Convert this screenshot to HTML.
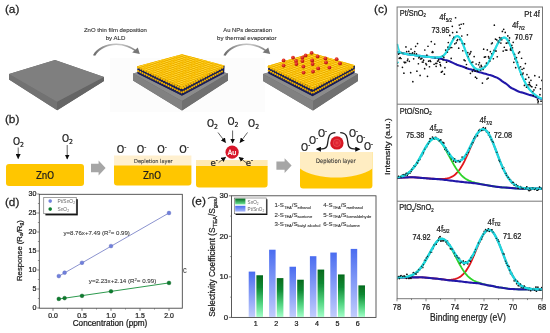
<!DOCTYPE html>
<html lang="en"><head><meta charset="utf-8"><title>Figure</title>
<style>html,body{margin:0;padding:0;background:#fff}body{width:550px;height:333px;overflow:hidden}svg{display:block}text{font-family:"Liberation Sans", sans-serif;fill:#1c1c1c;stroke:#1c1c1c;stroke-width:0.24px;paint-order:stroke}.t{font-family:"DejaVu Sans Condensed", "DejaVu Sans", "Liberation Sans", sans-serif}.w{stroke:#fff}.g{stroke:#555}</style></head><body>
<svg width="550" height="333" viewBox="0 0 550 333">
<defs>
<radialGradient id="gs" cx="40%" cy="35%" r="70%"><stop offset="0" stop-color="#ffd23a"/><stop offset="0.6" stop-color="#f6b300"/><stop offset="1" stop-color="#c98a00"/></radialGradient>
<radialGradient id="rs" cx="38%" cy="32%" r="70%"><stop offset="0" stop-color="#f4584a"/><stop offset="0.55" stop-color="#d8261e"/><stop offset="1" stop-color="#9c100c"/></radialGradient>
<radialGradient id="rs2" cx="50%" cy="50%" r="50%"><stop offset="0" stop-color="#f0454b"/><stop offset="0.35" stop-color="#de2230"/><stop offset="1" stop-color="#d4141f"/></radialGradient>
<linearGradient id="bb" x1="0" y1="0" x2="0" y2="1"><stop offset="0" stop-color="#4a6cf0"/><stop offset="1" stop-color="#c0ccfd"/></linearGradient>
<linearGradient id="gb" x1="0" y1="0" x2="0" y2="1"><stop offset="0" stop-color="#056a1d"/><stop offset="0.3" stop-color="#0f8a34"/><stop offset="0.68" stop-color="#52d480"/><stop offset="1" stop-color="#a2ffc8"/></linearGradient>
<linearGradient id="bbh" x1="0" y1="0" x2="0" y2="1"><stop offset="0" stop-color="#4a6cf0"/><stop offset="1" stop-color="#a9b9fb"/></linearGradient>
<linearGradient id="gbh" x1="0" y1="0" x2="0" y2="1"><stop offset="0" stop-color="#04691f"/><stop offset="1" stop-color="#6fe89a"/></linearGradient>
<marker id="ah" viewBox="0 0 10 10" refX="9" refY="5" markerWidth="5" markerHeight="5" markerUnits="userSpaceOnUse" orient="auto"><path d="M0,0 L10,5 L0,10 Z" fill="#111"/></marker>
<marker id="ah2" viewBox="0 0 10 10" refX="8" refY="5" markerWidth="5.6" markerHeight="5.2" markerUnits="userSpaceOnUse" orient="auto"><path d="M0,0 L10,5 L0,10 Z" fill="#111"/></marker><marker id="ahg" viewBox="0 0 10 10" refX="5" refY="5" markerWidth="8" markerHeight="8" markerUnits="userSpaceOnUse" orient="auto"><path d="M0,0.5 L10,5 L0,9.5 L2.5,5 Z" fill="#747474"/></marker>
<filter id="gsoft" filterUnits="userSpaceOnUse" x="0" y="0" width="550" height="333"><feGaussianBlur stdDeviation="0.45"/></filter>
<filter id="soft" x="-5%" y="-5%" width="110%" height="110%"><feGaussianBlur stdDeviation="0.35"/></filter>
<filter id="soft2" x="-5%" y="-5%" width="110%" height="110%"><feGaussianBlur stdDeviation="0.5"/></filter>
</defs>
<rect width="550" height="333" fill="#fff"/>
<g filter="url(#gsoft)">
<g id="panel-a">
<text x="4.9" y="13.4" font-size="11.8" style="stroke-width:0.26px" fill="#1a1a1a">(a)</text>
<text x="115.4" y="32.3" font-size="6.2" text-anchor="middle" class="g" style="fill:#333;stroke:#333;stroke-width:0.12px" textLength="63" lengthAdjust="spacingAndGlyphs">ZnO thin film deposition</text>
<text x="115.5" y="40" font-size="6.2" text-anchor="middle" class="g" style="fill:#333;stroke:#333;stroke-width:0.12px" textLength="19.6" lengthAdjust="spacingAndGlyphs">by ALD</text>
<text x="247.6" y="32.3" font-size="6.2" text-anchor="middle" class="g" style="fill:#333;stroke:#333;stroke-width:0.12px" textLength="48.6" lengthAdjust="spacingAndGlyphs">Au NPs decoration</text>
<text x="246.8" y="40" font-size="6.2" text-anchor="middle" class="g" style="fill:#333;stroke:#333;stroke-width:0.12px" textLength="59.4" lengthAdjust="spacingAndGlyphs">by thermal evaporator</text>
<linearGradient id="sw1" gradientUnits="userSpaceOnUse" x1="93.6" y1="0" x2="139.6" y2="0"><stop offset="0" stop-color="#6a6a6a"/><stop offset="0.42" stop-color="#bdbdbd"/><stop offset="0.6" stop-color="#c4c4c4"/><stop offset="1" stop-color="#727272"/></linearGradient>
<path d="M93,55.2 C96.8,47.6 106.6,43.5 116.1,43.5 C124.6,43.5 131.6,46.4 136.6,50.4 L135.4,51.6 C130.6,47.9 124.2,45.1 116.1,44.9 C108.1,44.9 99.6,48.4 95.2,55.8 Z" fill="url(#sw1)" filter="url(#soft)"/>
<polygon points="139.8,54 132.2,52.6 137.8,47.4" fill="#767676" filter="url(#soft)"/>
<linearGradient id="sw2" gradientUnits="userSpaceOnUse" x1="224" y1="0" x2="270" y2="0"><stop offset="0" stop-color="#6a6a6a"/><stop offset="0.42" stop-color="#bdbdbd"/><stop offset="0.6" stop-color="#c4c4c4"/><stop offset="1" stop-color="#727272"/></linearGradient>
<path d="M223.4,55.2 C227.2,47.6 237,43.5 246.5,43.5 C255,43.5 262,46.4 267,50.4 L265.8,51.6 C261,47.9 254.6,45.1 246.5,44.9 C238.5,44.9 230,48.4 225.6,55.8 Z" fill="url(#sw2)" filter="url(#soft)"/>
<polygon points="270.2,54 262.6,52.6 268.2,47.4" fill="#767676" filter="url(#soft)"/>
<rect x="110" y="58" width="155" height="54" fill="#fcfcfc" filter="url(#soft2)"/>
<g filter="url(#soft)">
<polygon points="9,74 55,60 104,77 104,81 57.2,110.2 9,79.5" fill="#6c6c6c"/>
<polygon points="9,74 57,101.8 57.2,110.2 9,79.5" fill="#727272"/>
<polygon points="57,101.8 104,77 104,81 57.2,110.2" fill="#656565"/>
<polygon points="9,74 55,60 104,77 57,101.8" fill="#7f7f7f"/>
</g>
<g filter="url(#soft)">
<polygon points="133,73.5 182,60.2 228,73.5 228,80.5 182,110.4 133,80.5" fill="#6a6a6a"/>
<polygon points="133,73.5 182,60.2 228,73.5 182,101" fill="#8c8c8c"/>
<polygon points="133,73.5 182,101 182,110.4 133,80.5" fill="#818181"/>
<polygon points="182,101 228,73.5 228,80.5 182,110.4" fill="#6f6f6f"/>
<polygon points="137.4,66.2 182,87 224.6,65.6 224.2,73.2 182,95.8 137.8,73.8" fill="#161b4e"/>
<path d="M138.2,72.7 L182,94.6 L223.8,72.1" fill="none" stroke="#1a2064" stroke-width="1.6" stroke-linecap="round" stroke-linejoin="round" stroke-dasharray="0.01 2.2"/>
<path d="M138.2,71 L182,92.6 L223.8,70.4" fill="none" stroke="#eeae00" stroke-width="2.2" stroke-linecap="round" stroke-linejoin="round" stroke-dasharray="0.01 2.4"/>
<path d="M138.2,69.3 L182,90.6 L223.8,68.7" fill="none" stroke="#181e5c" stroke-width="1.6" stroke-linecap="round" stroke-linejoin="round" stroke-dasharray="0.01 2.2"/>
<path d="M138.2,67.3 L182,88.3 L223.8,66.7" fill="none" stroke="#f8ba00" stroke-width="2.6" stroke-linecap="round" stroke-linejoin="round" stroke-dasharray="0.01 2.6"/>
<pattern id="pa" width="1" height="1" patternUnits="userSpaceOnUse" patternTransform="matrix(2.97 -0.8 2.97 1.39 137.4 66.2)"><rect width="1" height="1" fill="#e3a300"/><circle cx="0.5" cy="0.5" r="0.49" fill="#fbbf00"/><circle cx="0.45" cy="0.42" r="0.32" fill="#ffd634"/></pattern>
<polygon points="137.4,66.2 182,54.2 224.6,65.6 182,87" fill="#fbbf00"/>
<polygon points="137.4,66.2 182,54.2 224.6,65.6 182,87" fill="url(#pa)"/>
</g>
<g filter="url(#soft)">
<polygon points="263,74 312,59 358,74 358,81 313,110.4 263,81" fill="#6a6a6a"/>
<polygon points="263,74 312,59 358,74 313,101" fill="#8c8c8c"/>
<polygon points="263,74 313,101 313,110.4 263,81" fill="#818181"/>
<polygon points="313,101 358,74 358,81 313,110.4" fill="#6f6f6f"/>
<polygon points="268,65.8 312.6,87.4 355,65.2 354.6,72.8 312.6,96.2 268.4,73.4" fill="#161b4e"/>
<path d="M268.8,72.3 L312.6,95 L354.2,71.7" fill="none" stroke="#1a2064" stroke-width="1.6" stroke-linecap="round" stroke-linejoin="round" stroke-dasharray="0.01 2.2"/>
<path d="M268.8,70.6 L312.6,93 L354.2,70" fill="none" stroke="#eeae00" stroke-width="2.2" stroke-linecap="round" stroke-linejoin="round" stroke-dasharray="0.01 2.4"/>
<path d="M268.8,68.9 L312.6,91 L354.2,68.3" fill="none" stroke="#181e5c" stroke-width="1.6" stroke-linecap="round" stroke-linejoin="round" stroke-dasharray="0.01 2.2"/>
<path d="M268.8,66.9 L312.6,88.7 L354.2,66.3" fill="none" stroke="#f8ba00" stroke-width="2.6" stroke-linecap="round" stroke-linejoin="round" stroke-dasharray="0.01 2.6"/>
<pattern id="pb" width="1" height="1" patternUnits="userSpaceOnUse" patternTransform="matrix(2.93 -0.85 2.97 1.44 268 65.8)"><rect width="1" height="1" fill="#e3a300"/><circle cx="0.5" cy="0.5" r="0.49" fill="#fbbf00"/><circle cx="0.45" cy="0.42" r="0.32" fill="#ffd634"/></pattern>
<polygon points="268,65.8 312,53 355,65.2 312.6,87.4" fill="#fbbf00"/>
<polygon points="268,65.8 312,53 355,65.2 312.6,87.4" fill="url(#pb)"/>
<circle cx="311.6" cy="52.8" r="1.9" fill="url(#rs)"/>
<circle cx="305.6" cy="55.4" r="1.9" fill="url(#rs)"/>
<circle cx="317.6" cy="56.4" r="1.9" fill="url(#rs)"/>
<circle cx="293" cy="57.6" r="1.9" fill="url(#rs)"/>
<circle cx="302.4" cy="57.6" r="1.9" fill="url(#rs)"/>
<circle cx="325.4" cy="58.4" r="1.9" fill="url(#rs)"/>
<circle cx="336.6" cy="59.2" r="1.9" fill="url(#rs)"/>
<circle cx="283.6" cy="60.4" r="1.9" fill="url(#rs)"/>
<circle cx="312.2" cy="60.4" r="1.9" fill="url(#rs)"/>
<circle cx="296" cy="61" r="1.9" fill="url(#rs)"/>
<circle cx="302.4" cy="61" r="1.9" fill="url(#rs)"/>
<circle cx="326" cy="62.4" r="1.9" fill="url(#rs)"/>
<circle cx="340" cy="63.4" r="1.9" fill="url(#rs)"/>
<circle cx="296.4" cy="64" r="1.9" fill="url(#rs)"/>
<circle cx="312.6" cy="64" r="1.9" fill="url(#rs)"/>
<circle cx="283.6" cy="65.6" r="1.9" fill="url(#rs)"/>
<circle cx="303.4" cy="66.6" r="1.9" fill="url(#rs)"/>
<circle cx="329.4" cy="67.6" r="1.9" fill="url(#rs)"/>
<circle cx="318.2" cy="68.4" r="1.9" fill="url(#rs)"/>
<circle cx="313" cy="71.6" r="1.9" fill="url(#rs)"/>
<circle cx="303.6" cy="72.6" r="1.9" fill="url(#rs)"/>
</g>
</g>
<g id="panel-b">
<text x="4.9" y="123.4" font-size="11.8" style="stroke-width:0.26px" fill="#1a1a1a">(b)</text>
<rect x="6" y="164" width="78" height="22" rx="3" fill="#ffc604"/>
<text class="t" x="45" y="178.9" font-size="10.6" text-anchor="middle" fill="#222" textLength="18.2" lengthAdjust="spacingAndGlyphs">ZnO</text>
<text class="t" x="18.4" y="144.5" font-size="10" text-anchor="middle" fill="#222">O<tspan font-size="6.8" dy="2.2">2</tspan></text>
<text class="t" x="67.4" y="141.5" font-size="10" text-anchor="middle" fill="#222">O<tspan font-size="6.8" dy="2.2">2</tspan></text>
<line x1="18.2" y1="147.5" x2="18.2" y2="158.6" stroke="#505050" stroke-width="0.9" marker-end="url(#ah)"/>
<line x1="67.2" y1="145" x2="67.2" y2="159" stroke="#505050" stroke-width="0.9" marker-end="url(#ah)"/>
<polygon points="91,163.8 98.6,163.8 98.6,160.6 105.6,168 98.6,175.4 98.6,172.2 91,172.2" fill="#a6a6a6"/>
<path d="M114,155.4 H191.4 V166 H114 Z" fill="#fff0cf"/>
<path d="M114,165.6 H191.4 V182.6 a3,3 0 0 1 -3,3 H117 a3,3 0 0 1 -3,-3 Z" fill="#ffc604"/>
<text class="t g" x="153.4" y="163" font-size="5.4" text-anchor="middle" style="fill:#333;stroke-width:0.1px" textLength="38.6" lengthAdjust="spacingAndGlyphs">Depletion layer</text>
<text class="t" x="152" y="178.9" font-size="10.6" text-anchor="middle" fill="#222" textLength="18.2" lengthAdjust="spacingAndGlyphs">ZnO</text>
<text class="t" x="121.5" y="153.2" font-size="10.6" text-anchor="middle" fill="#222">O<tspan font-size="6.36" dy="-4">-</tspan></text>
<text class="t" x="141.5" y="153.2" font-size="10.6" text-anchor="middle" fill="#222">O<tspan font-size="6.36" dy="-4">-</tspan></text>
<text class="t" x="162" y="153.2" font-size="10.6" text-anchor="middle" fill="#222">O<tspan font-size="6.36" dy="-4">-</tspan></text>
<text class="t" x="184" y="153.2" font-size="10.6" text-anchor="middle" fill="#222">O<tspan font-size="6.36" dy="-4">-</tspan></text>
<path d="M196,160 H267.6 V167 H196 Z" fill="#ffeab4"/>
<path d="M196,166 H267.6 V184.6 a3,3 0 0 1 -3,3 H199 a3,3 0 0 1 -3,-3 Z" fill="#ffc604"/>
<circle cx="232.1" cy="152.2" r="6.6" fill="#d8182a"/>
<text class="t w" x="232.1" y="155" font-size="7.2" text-anchor="middle" style="fill:#fff">Au</text>
<text class="t" x="212.5" y="126.6" font-size="10" text-anchor="middle" fill="#222">O<tspan font-size="6.8" dy="2.2">2</tspan></text>
<text class="t" x="233" y="125.2" font-size="10" text-anchor="middle" fill="#222">O<tspan font-size="6.8" dy="2.2">2</tspan></text>
<text class="t" x="253.6" y="126.6" font-size="10" text-anchor="middle" fill="#222">O<tspan font-size="6.8" dy="2.2">2</tspan></text>
<line x1="218" y1="132.5" x2="225.6" y2="142.5" stroke="#505050" stroke-width="0.9" marker-end="url(#ah)"/>
<line x1="232.6" y1="130.5" x2="232.6" y2="143" stroke="#505050" stroke-width="0.9" marker-end="url(#ah)"/>
<line x1="247.5" y1="132.5" x2="240" y2="142.5" stroke="#505050" stroke-width="0.9" marker-end="url(#ah)"/>
<text class="t" x="214" y="166" font-size="9.5" text-anchor="middle" fill="#222">e<tspan font-size="6" dy="-4">-</tspan></text>
<text class="t" x="249.4" y="166" font-size="9.5" text-anchor="middle" fill="#222">e<tspan font-size="6" dy="-4">-</tspan></text>
<line x1="218.6" y1="162.6" x2="225.6" y2="157.2" stroke="#505050" stroke-width="0.9" marker-end="url(#ah)"/>
<line x1="246" y1="162.6" x2="239" y2="157.2" stroke="#505050" stroke-width="0.9" marker-end="url(#ah)"/>
<polygon points="276.4,161.4 284.6,161.4 284.6,158.2 291.6,165.6 284.6,173 284.6,169.8 276.4,169.8" fill="#a6a6a6"/>
<path d="M300,152 H372.4 V185.6 a3,3 0 0 1 -3,3 H303 a3,3 0 0 1 -3,-3 Z" fill="#ffc604"/>
<path d="M300,152 H372.4 V168.4 C356,180.6 316,180.6 300,168.4 Z" fill="#ffedc2"/>
<text class="t g" x="335.8" y="163.2" font-size="6.1" text-anchor="middle" style="fill:#2a2a2a;stroke-width:0.1px" textLength="39.6" lengthAdjust="spacingAndGlyphs">Depletion layer</text>
<circle cx="336.9" cy="142.9" r="6.7" fill="url(#rs2)"/>
<circle cx="336.9" cy="142.9" r="3.6" fill="none" stroke="#ec6a6e" stroke-width="0.7" opacity="0.7"/>
<text class="t" x="305.6" y="151" font-size="10" text-anchor="middle" fill="#222">O<tspan font-size="6" dy="-4">-</tspan></text>
<text class="t" x="313.6" y="144.4" font-size="10" text-anchor="middle" fill="#222">O<tspan font-size="6" dy="-4">-</tspan></text>
<text class="t" x="322.4" y="137.4" font-size="10" text-anchor="middle" fill="#222">O<tspan font-size="6" dy="-4">-</tspan></text>
<text class="t" x="353.4" y="137.4" font-size="10" text-anchor="middle" fill="#222">O<tspan font-size="6" dy="-4">-</tspan></text>
<text class="t" x="360.8" y="143.2" font-size="10" text-anchor="middle" fill="#222">O<tspan font-size="6" dy="-4">-</tspan></text>
<text class="t" x="368.4" y="150" font-size="10" text-anchor="middle" fill="#222">O<tspan font-size="6" dy="-4">-</tspan></text>
<path d="M335.4,132.6 C328.6,132.6 328.2,138 327.6,143.5 C327.2,148.4 325,149.2 316.8,149.2" fill="none" stroke="#222" stroke-width="1.3" marker-end="url(#ah2)"/>
<path d="M340.2,132.6 C347,132.6 347.4,138 348,143.5 C348.4,148.4 350.6,149.2 359.4,149.2" fill="none" stroke="#222" stroke-width="1.3" marker-end="url(#ah2)"/>
</g>
<g id="panel-d">
<rect x="39.3" y="194.3" width="143" height="113.9" fill="#fff" stroke="#3e3e3e" stroke-width="0.85"/>
<text x="4.9" y="206" font-size="11.8" style="stroke-width:0.26px" fill="#1a1a1a">(d)</text>
<line x1="37.3" y1="308" x2="39.3" y2="308" stroke="#555" stroke-width="0.8"/>
<text x="36.5" y="310.4" font-size="7.1" text-anchor="end" fill="#222">0</text>
<line x1="37.3" y1="289" x2="39.3" y2="289" stroke="#555" stroke-width="0.8"/>
<text x="36.5" y="291.4" font-size="7.1" text-anchor="end" fill="#222">5</text>
<line x1="37.3" y1="270" x2="39.3" y2="270" stroke="#555" stroke-width="0.8"/>
<text x="36.5" y="272.4" font-size="7.1" text-anchor="end" fill="#222">10</text>
<line x1="37.3" y1="251" x2="39.3" y2="251" stroke="#555" stroke-width="0.8"/>
<text x="36.5" y="253.4" font-size="7.1" text-anchor="end" fill="#222">15</text>
<line x1="37.3" y1="232" x2="39.3" y2="232" stroke="#555" stroke-width="0.8"/>
<text x="36.5" y="234.4" font-size="7.1" text-anchor="end" fill="#222">20</text>
<line x1="37.3" y1="213" x2="39.3" y2="213" stroke="#555" stroke-width="0.8"/>
<text x="36.5" y="215.4" font-size="7.1" text-anchor="end" fill="#222">25</text>
<line x1="37.3" y1="194" x2="39.3" y2="194" stroke="#555" stroke-width="0.8"/>
<text x="36.5" y="196.4" font-size="7.1" text-anchor="end" fill="#222">30</text>
<line x1="37.9" y1="298.5" x2="39.3" y2="298.5" stroke="#555" stroke-width="0.6"/>
<line x1="37.9" y1="279.5" x2="39.3" y2="279.5" stroke="#555" stroke-width="0.6"/>
<line x1="37.9" y1="260.5" x2="39.3" y2="260.5" stroke="#555" stroke-width="0.6"/>
<line x1="37.9" y1="241.5" x2="39.3" y2="241.5" stroke="#555" stroke-width="0.6"/>
<line x1="37.9" y1="222.5" x2="39.3" y2="222.5" stroke="#555" stroke-width="0.6"/>
<line x1="37.9" y1="203.5" x2="39.3" y2="203.5" stroke="#555" stroke-width="0.6"/>
<line x1="53" y1="308.2" x2="53" y2="310.8" stroke="#555" stroke-width="0.8"/>
<text x="53" y="317.8" font-size="6.9" text-anchor="middle" fill="#222">0.0</text>
<line x1="82" y1="308.2" x2="82" y2="310.8" stroke="#555" stroke-width="0.8"/>
<text x="82" y="317.8" font-size="6.9" text-anchor="middle" fill="#222">0.5</text>
<line x1="111" y1="308.2" x2="111" y2="310.8" stroke="#555" stroke-width="0.8"/>
<text x="111" y="317.8" font-size="6.9" text-anchor="middle" fill="#222">1.0</text>
<line x1="140" y1="308.2" x2="140" y2="310.8" stroke="#555" stroke-width="0.8"/>
<text x="140" y="317.8" font-size="6.9" text-anchor="middle" fill="#222">1.5</text>
<line x1="169" y1="308.2" x2="169" y2="310.8" stroke="#555" stroke-width="0.8"/>
<text x="169" y="317.8" font-size="6.9" text-anchor="middle" fill="#222">2.0</text>
<line x1="67.5" y1="308.2" x2="67.5" y2="309.6" stroke="#555" stroke-width="0.6"/>
<line x1="96.5" y1="308.2" x2="96.5" y2="309.6" stroke="#555" stroke-width="0.6"/>
<line x1="125.5" y1="308.2" x2="125.5" y2="309.6" stroke="#555" stroke-width="0.6"/>
<line x1="154.5" y1="308.2" x2="154.5" y2="309.6" stroke="#555" stroke-width="0.6"/>
<text x="110" y="326.4" font-size="8.2" text-anchor="middle" fill="#222">Concentration (ppm)</text>
<text transform="translate(21.6 250.6) rotate(-90)" font-size="7.7" text-anchor="middle" fill="#222">Response (R<tspan font-size="5" dy="1.6">a</tspan><tspan dy="-1.6">/R</tspan><tspan font-size="5" dy="1.6">g</tspan><tspan dy="-1.6">)</tspan></text>
<line x1="58.8" y1="276.21" x2="169" y2="212.96" stroke="#8b93cf" stroke-width="1"/>
<line x1="58.8" y1="299.02" x2="169" y2="282.92" stroke="#2d9a4e" stroke-width="1"/>
<circle cx="58.8" cy="276.08" r="1.9" fill="#7080dc" stroke="#5864bc" stroke-width="0.4"/>
<circle cx="64.6" cy="272.66" r="1.9" fill="#7080dc" stroke="#5864bc" stroke-width="0.4"/>
<circle cx="82" cy="262.78" r="1.9" fill="#7080dc" stroke="#5864bc" stroke-width="0.4"/>
<circle cx="111" cy="246.06" r="1.9" fill="#7080dc" stroke="#5864bc" stroke-width="0.4"/>
<circle cx="169" cy="213" r="1.9" fill="#7080dc" stroke="#5864bc" stroke-width="0.4"/>
<circle cx="58.8" cy="298.88" r="1.9" fill="#0b7d2e" stroke="#07561f" stroke-width="0.4"/>
<circle cx="64.6" cy="298.12" r="1.9" fill="#0b7d2e" stroke="#07561f" stroke-width="0.4"/>
<circle cx="82" cy="295.84" r="1.9" fill="#0b7d2e" stroke="#07561f" stroke-width="0.4"/>
<circle cx="111" cy="291.28" r="1.9" fill="#0b7d2e" stroke="#07561f" stroke-width="0.4"/>
<circle cx="169" cy="282.92" r="1.9" fill="#0b7d2e" stroke="#07561f" stroke-width="0.4"/>
<text class="g" x="63.4" y="234.9" font-size="6.1" style="fill:#333;stroke-width:0.1px">y=8.76x+7.49 (R<tspan font-size="4.1" dy="-2.2">2</tspan><tspan dy="2.2">= 0.99)</tspan></text>
<text class="g" x="88.8" y="282.8" font-size="6.2" style="fill:#333;stroke-width:0.1px">y=2.23x+2.14  (R<tspan font-size="4.1" dy="-2.2">2</tspan><tspan dy="2.2">= 0.99)</tspan></text>
<rect x="45.4" y="199.2" width="32.4" height="16.2" fill="#111"/>
<rect x="43.8" y="197.6" width="32.4" height="16.2" fill="#fff" stroke="#444" stroke-width="0.5"/>
<circle cx="50.2" cy="201.1" r="1.8" fill="#7384dd"/><circle cx="50.2" cy="209.1" r="1.8" fill="#0b7d2e"/>
<text x="57.4" y="202.8" font-size="4.9" style="fill:#666;stroke:none">Pt/SnO<tspan font-size="3.4" dy="1">2</tspan></text>
<text x="57.4" y="210.8" font-size="4.9" style="fill:#666;stroke:none">SnO<tspan font-size="3.4" dy="1">2</tspan></text>
<text class="g" x="183" y="273.2" font-size="8.8" style="fill:#444;stroke-width:0.1px" textLength="3.7" lengthAdjust="spacingAndGlyphs">c</text>
</g>
<g id="panel-e">
<rect x="231.5" y="195.8" width="144.5" height="121.6" fill="#fff" stroke="#3e3e3e" stroke-width="0.85"/>
<text x="191.4" y="205.2" font-size="11.8" style="stroke-width:0.26px" fill="#1a1a1a">(e)</text>
<line x1="228.9" y1="317.4" x2="231.5" y2="317.4" stroke="#555" stroke-width="0.8"/>
<text x="228.1" y="319.8" font-size="7.8" text-anchor="end" fill="#222">0</text>
<line x1="228.9" y1="276.87" x2="231.5" y2="276.87" stroke="#555" stroke-width="0.8"/>
<text x="228.1" y="279.27" font-size="7.8" text-anchor="end" fill="#222">10</text>
<line x1="228.9" y1="236.34" x2="231.5" y2="236.34" stroke="#555" stroke-width="0.8"/>
<text x="228.1" y="238.74" font-size="7.8" text-anchor="end" fill="#222">20</text>
<line x1="228.9" y1="195.81" x2="231.5" y2="195.81" stroke="#555" stroke-width="0.8"/>
<text x="228.1" y="198.21" font-size="7.8" text-anchor="end" fill="#222">30</text>
<line x1="230.1" y1="297.13" x2="231.5" y2="297.13" stroke="#555" stroke-width="0.6"/>
<line x1="230.1" y1="256.6" x2="231.5" y2="256.6" stroke="#555" stroke-width="0.6"/>
<line x1="230.1" y1="216.07" x2="231.5" y2="216.07" stroke="#555" stroke-width="0.6"/>
<rect x="248.7" y="271.6" width="6.5" height="45.3" fill="url(#bb)"/>
<rect x="256.4" y="275.25" width="6.6" height="41.65" fill="url(#gb)"/>
<text x="255.8" y="325.8" font-size="7.1" text-anchor="middle" fill="#222">1</text>
<rect x="269.1" y="249.71" width="6.5" height="67.19" fill="url(#bb)"/>
<rect x="276.8" y="278.09" width="6.6" height="38.81" fill="url(#gb)"/>
<text x="276.2" y="325.8" font-size="7.1" text-anchor="middle" fill="#222">2</text>
<rect x="289.5" y="266.74" width="6.5" height="50.16" fill="url(#bb)"/>
<rect x="297.2" y="279.71" width="6.6" height="37.19" fill="url(#gb)"/>
<text x="296.6" y="325.8" font-size="7.1" text-anchor="middle" fill="#222">3</text>
<rect x="309.9" y="256.2" width="6.5" height="60.7" fill="url(#bb)"/>
<rect x="317.6" y="269.57" width="6.6" height="47.33" fill="url(#gb)"/>
<text x="317" y="325.8" font-size="7.1" text-anchor="middle" fill="#222">4</text>
<rect x="330.3" y="252.55" width="6.5" height="64.35" fill="url(#bb)"/>
<rect x="338" y="274.44" width="6.6" height="42.46" fill="url(#gb)"/>
<text x="337.4" y="325.8" font-size="7.1" text-anchor="middle" fill="#222">5</text>
<rect x="350.7" y="248.9" width="6.5" height="68" fill="url(#bb)"/>
<rect x="358.4" y="285.38" width="6.6" height="31.52" fill="url(#gb)"/>
<text x="357.8" y="325.8" font-size="7.1" text-anchor="middle" fill="#222">6</text>
<text transform="translate(214.8 256.4) rotate(-90)" font-size="8.3" text-anchor="middle" fill="#222">Selectivity Coefficient (S<tspan font-size="5.8" dy="1.8">TEA</tspan><tspan dy="-1.8">/S</tspan><tspan font-size="5.8" dy="1.8">gas</tspan><tspan dy="-1.8">)</tspan></text>
<rect x="235.6" y="199.2" width="31.8" height="15.8" fill="#111"/>
<rect x="234.4" y="198" width="31.8" height="15.8" fill="#fff" stroke="#444" stroke-width="0.5"/>
<rect x="235.2" y="198.6" width="10.2" height="5.8" fill="url(#gbh)"/>
<rect x="235.2" y="205.8" width="10.2" height="5.8" fill="url(#bbh)"/>
<text x="247.6" y="203.6" font-size="4.6" style="fill:#666;stroke:none">SnO<tspan font-size="3.2" dy="1">2</tspan></text>
<text x="247.6" y="210.8" font-size="4.6" style="fill:#666;stroke:none">Pt/SnO<tspan font-size="3.2" dy="1">2</tspan></text>
<text class="g" x="274.4" y="207.4" font-size="6.1" style="fill:#333;stroke-width:0.12px">1-S<tspan font-size="4.1" dy="1.5">TEA</tspan><tspan dy="-1.5">/S</tspan><tspan font-size="4.1" dy="1.5">ethanol</tspan></text>
<text class="g" x="274.4" y="216.5" font-size="6.1" style="fill:#333;stroke-width:0.12px">2-S<tspan font-size="4.1" dy="1.5">TEA</tspan><tspan dy="-1.5">/S</tspan><tspan font-size="4.1" dy="1.5">acetone</tspan></text>
<text class="g" x="274.4" y="225.6" font-size="6.1" style="fill:#333;stroke-width:0.12px">3-S<tspan font-size="4.1" dy="1.5">TEA</tspan><tspan dy="-1.5">/S</tspan><tspan font-size="4.1" dy="1.5">butyl alcohol</tspan></text>
<text class="g" x="323.2" y="207.4" font-size="6.1" style="fill:#333;stroke-width:0.12px">4-S<tspan font-size="4.1" dy="1.5">TEA</tspan><tspan dy="-1.5">/S</tspan><tspan font-size="4.1" dy="1.5">methanol</tspan></text>
<text class="g" x="323.2" y="216.5" font-size="6.1" style="fill:#333;stroke-width:0.12px">5-S<tspan font-size="4.1" dy="1.5">TEA</tspan><tspan dy="-1.5">/S</tspan><tspan font-size="4.1" dy="1.5">formaldehyde</tspan></text>
<text class="g" x="323.2" y="225.6" font-size="6.1" style="fill:#333;stroke-width:0.12px">6-S<tspan font-size="4.1" dy="1.5">TEA</tspan><tspan dy="-1.5">/S</tspan><tspan font-size="4.1" dy="1.5">toluene</tspan></text>
</g>
<g id="panel-c">
<text x="374" y="13" font-size="11.8" style="stroke-width:0.26px" fill="#1a1a1a">(c)</text>
<rect x="397.1" y="7" width="145.4" height="291.7" fill="#fff"/>
<clipPath id="c1"><rect x="397.1" y="7" width="145.4" height="97.2"/></clipPath>
<g clip-path="url(#c1)">
<path d="M397,52.2 L398.5,52.41 L400,52.67 L401.5,52.97 L403,53.29 L404.5,53.62 L406,53.93 L407.5,54.22 L409,54.47 L410.5,54.65 L412,54.81 L413.5,55 L415,55.21 L416.5,55.44 L418,55.68 L419.5,55.91 L421,56.13 L422.5,56.33 L424,56.5 L425.5,56.63 L427,56.76 L428.5,56.91 L430,57.08 L431.5,57.26 L433,57.43 L434.5,57.59 L436,57.73 L437.5,57.89 L439,58.23 L440.5,58.65 L442,59.1 L443.5,59.55 L445,59.97 L446.5,60.31 L448,60.71 L449.5,61.27 L451,61.94 L452.5,62.66 L454,63.39 L455.5,64.09 L457,64.73 L458.5,65.26 L460,65.66 L461.5,66.14 L463,66.7 L464.5,67.3 L466,67.9 L467.5,68.46 L469,68.94 L470.5,69.31 L472,69.73 L473.5,70.24 L475,70.8 L476.5,71.36 L478,71.87 L479.5,72.29 L481,72.59 L482.5,72.96 L484,73.4 L485.5,73.85 L487,74.3 L488.5,74.69 L490,75 L491.5,75.47 L493,76.08 L494.5,76.73 L496,77.31 L497.5,77.84 L499,78.77 L500.5,79.9 L502,81.09 L503.5,82.17 L505,83 L506.5,83.98 L508,85.25 L509.5,86.6 L511,87.79 L512.5,88.56 L514,89.18 L515.5,89.94 L517,90.72 L518.5,91.44 L520,92 L521.5,92.36 L523,92.81 L524.5,93.32 L526,93.85 L527.5,94.35 L529,94.78 L530.5,95.12 L532,95.54 L533.5,96.05 L535,96.61 L536.5,97.2 L538,97.77 L539.5,98.3 L541,98.76 L542,99" fill="none" stroke="#2019a8" stroke-width="2.1"/>
<path d="M397,52.2 L398.5,52.41 L400,52.67 L401.5,52.97 L403,53.29 L404.5,53.62 L406,53.93 L407.5,54.22 L409,54.47 L410.5,54.65 L412,54.81 L413.5,55 L415,55.21 L416.5,55.44 L418,55.68 L419.5,55.91 L421,56.13 L422.5,56.33 L424,56.5 L425.5,56.63 L427,56.76 L428.5,56.91 L430,57.07 L431.5,57.22 L433,57.35 L434.5,57.44 L436,57.43 L437.5,57.35 L439,57.28 L440.5,57.04 L442,56.51 L443.5,55.55 L445,54.04 L446.5,51.9 L448,49.3 L449.5,46.45 L451,43.5 L452.5,40.69 L454,38.33 L455.5,36.72 L457,36.1 L458.5,36.58 L460,38.1 L461.5,40.71 L463,44.18 L464.5,48.16 L466,52.27 L467.5,56.19 L469,59.67 L470.5,62.52 L472,64.86 L473.5,66.75 L475,68.16 L476.5,69.13 L478,69.64 L479.5,69.71 L481,69.31 L482.5,68.63 L484,67.65 L485.5,66.31 L487,64.55 L488.5,62.33 L490,59.63 L491.5,56.73 L493,53.68 L494.5,50.49 L496,47.18 L497.5,43.94 L499,41.37 L500.5,39.47 L502,38.23 L503.5,37.65 L505,37.67 L506.5,38.71 L508,40.81 L509.5,43.69 L511,47.06 L512.5,50.52 L514,54.25 L515.5,58.39 L517,62.71 L518.5,66.98 L520,70.99 L521.5,74.61 L523,78.07 L524.5,81.28 L526,84.18 L527.5,86.71 L529,88.84 L530.5,90.58 L532,92.13 L533.5,93.53 L535,94.78 L536.5,95.89 L538,96.85 L539.5,97.67 L541,98.32 L542,98.67" fill="none" stroke="#1fd6df" stroke-width="2.1" stroke-linejoin="round"/>
<path d="M397.21,63.02h0M397.69,65.91h0M398.6,54.07h0M399.21,58.33h0M399.56,53.23h0M400.22,57.63h0M401.05,58.51h0M401.56,52.71h0M402.44,67.33h0M402.93,53.28h0M403.91,73.18h0M404.12,61.98h0M404.67,62.64h0M405.7,62.39h0M405.95,46.95h0M406.7,51.72h0M407.43,60.56h0M407.86,59.03h0M408.77,51.4h0M409.34,61.36h0M409.9,53.54h0M410.67,72.65h0M411.03,49.04h0M412.04,53.74h0M412.58,52.86h0M412.85,81.64h0M413.66,58.84h0M414.33,53.84h0M414.69,51.66h0M415.64,46.32h0M416.45,53.93h0M416.92,71.18h0M417.54,43.55h0M418.39,63.76h0M418.73,57.85h0M419.5,56.93h0M420.1,75.38h0M420.51,58.98h0M421.2,58.87h0M421.88,58.27h0M422.33,62.11h0M423.32,62.02h0M423.57,60.18h0M424.65,68.63h0M424.8,49.99h0M425.91,63.63h0M426.51,64.82h0M426.89,55.17h0M427.49,76.37h0M428,46.23h0M428.64,61.22h0M429.46,66.76h0M430.15,60.62h0M430.68,61.51h0M431.28,41.57h0M432.1,52.37h0M432.63,51.49h0M432.98,52.36h0M434.12,64.26h0M434.69,44.03h0M435.08,57.85h0M435.85,63.39h0M436.14,66.33h0M436.83,63.36h0M437.57,61.12h0M438.08,60.99h0M438.68,59.64h0M439.78,62.25h0M440.25,64.56h0M440.72,65.79h0M441.36,72.22h0M442.37,71.44h0M442.69,56.14h0M443.1,59.82h0M443.87,57.35h0M444.39,74.22h0M444.94,67.64h0M445.65,50.04h0M446.52,62.15h0M447.41,52.12h0M447.97,47.17h0M448.3,42.51h0M448.81,49.23h0M449.81,35.46h0M450.17,47.75h0M451.19,58.43h0M451.74,47.49h0M452.31,26.3h0M452.63,32.55h0M453.14,38.73h0M453.77,37.44h0M454.8,43.84h0M455.59,17.76h0M456.24,42.79h0M456.85,32.16h0M457.04,40.61h0M457.65,39.54h0M458.71,48.14h0M459.3,24.99h0M459.91,39.56h0M460.11,28.32h0M461.16,24.25h0M461.77,36h0M462.42,43.5h0M462.78,50.76h0M463.45,23.79h0M464.08,59.92h0M464.57,43.88h0M465.18,60.75h0M466.22,67.85h0M466.45,64.5h0M467.39,34.79h0M467.83,52.72h0M468.26,56.67h0M469.47,54.5h0M470.08,53.38h0M470.41,73.37h0M470.9,51.72h0M471.56,62.54h0M472.39,71.47h0M472.82,62.02h0M473.84,69.31h0M474.14,56.55h0M475.1,71.17h0M475.44,77.21h0M476.14,63.98h0M476.76,78.34h0M477.19,70.49h0M477.71,71.17h0M478.63,64.75h0M479.41,62.64h0M479.91,67.02h0M480.57,70.32h0M481.2,65.3h0M481.64,66.59h0M482.43,83.08h0M483.09,69.46h0M483.65,49.18h0M484.38,57.16h0M485.06,66.38h0M485.55,56.78h0M486.47,63.2h0M486.96,79.09h0M487.32,49.9h0M488.13,78.16h0M488.51,56.63h0M489.13,58.17h0M489.83,61.12h0M490.36,51.72h0M491.49,43.73h0M491.67,53.74h0M492.3,42.92h0M493.37,58.77h0M494.04,50.27h0M494.34,25.16h0M495.23,50.95h0M495.46,39.08h0M496.2,51.01h0M496.74,39.84h0M497.27,56.76h0M498.22,41.12h0M498.71,42.4h0M499.52,37.55h0M500.37,39.37h0M500.88,43.03h0M501.2,38.1h0M501.69,39.65h0M502.38,31.39h0M503.18,51.06h0M503.71,29.32h0M504.28,47.25h0M505.24,32.38h0M505.5,50.02h0M506.34,43.13h0M506.75,50.17h0M507.82,35.96h0M508.02,42.8h0M509.12,40.42h0M509.5,37.97h0M510.42,49.85h0M510.65,48.41h0M511.27,50.23h0M511.82,45.43h0M512.51,47.86h0M513.2,42.34h0M513.82,62.28h0M514.58,54.24h0M514.92,58.81h0M515.69,67.68h0M516.5,57.59h0M516.91,37.85h0M517.49,62.26h0M518.55,53.07h0M519.19,67.98h0M519.56,51.88h0M520.54,66.76h0M520.79,74.48h0M521.59,58.26h0M522.08,69.35h0M522.55,74.38h0M523.14,73.02h0M523.83,68.37h0M524.41,85.43h0M525.4,63.62h0M525.79,79.15h0M526.53,87.19h0M526.98,74.61h0M528.09,84.82h0M528.73,77.4h0M529.36,82.43h0M529.59,84.32h0M530.27,85.63h0M530.95,80.37h0M531.6,86.63h0M531.93,86.73h0M532.8,91.57h0M533.21,95.44h0M533.96,89.95h0M534.8,75.7h0M535.47,87.56h0M536.14,96.76h0M536.54,85.1h0M537.56,99.64h0M537.99,102.85h0M538.26,101.16h0M539.24,77.12h0M539.93,94.65h0M540.44,88.79h0M541.06,101.16h0M541.88,80.41h0" fill="none" stroke="#111" stroke-width="1.7" stroke-linecap="round"/>
<path d="M397,52.2 L398.5,52.41 L400,52.67 L401.5,52.97 L403,53.29 L404.5,53.62 L406,53.93 L407.5,54.22 L409,54.47 L410.5,54.65 L412,54.81 L413.5,55 L415,55.21 L416.5,55.44 L418,55.68 L419.5,55.91 L421,56.13 L422.5,56.33 L424,56.5 L425.5,56.63 L427,56.76 L428.5,56.91 L430,57.07 L431.5,57.22 L433,57.35 L434.5,57.44 L436,57.43 L437.5,57.35 L439,57.28 L440.5,57.04 L442,56.51 L443.5,55.55 L445,54.04 L446.5,51.9 L448,49.3 L449.5,46.45 L451,43.5 L452.5,40.69 L454,38.33 L455.5,36.72 L457,36.1 L458.5,36.58 L460,38.1 L461.5,40.71 L463,44.18 L464.5,48.16 L466,52.27 L467.5,56.19 L469,59.67 L470.5,62.52 L472,64.86 L473.5,66.75 L475,68.16 L476.5,69.13 L478,69.64 L479.5,69.71 L481,69.31 L482.5,68.63 L484,67.65 L485.5,66.31 L487,64.55 L488.5,62.33 L490,59.63 L491.5,56.73 L493,53.68 L494.5,50.49 L496,47.18 L497.5,43.94 L499,41.37 L500.5,39.47 L502,38.23 L503.5,37.65 L505,37.67 L506.5,38.71 L508,40.81 L509.5,43.69 L511,47.06 L512.5,50.52 L514,54.25 L515.5,58.39 L517,62.71 L518.5,66.98 L520,70.99 L521.5,74.61 L523,78.07 L524.5,81.28 L526,84.18 L527.5,86.71 L529,88.84 L530.5,90.58 L532,92.13 L533.5,93.53 L535,94.78 L536.5,95.89 L538,96.85 L539.5,97.67 L541,98.32 L542,98.67" fill="none" stroke="#2fdfe6" stroke-width="1.9" stroke-linejoin="round" opacity="0.6"/>
</g>
<path d="M397.6,44.6 C398.2,48 398.8,50.6 400.4,52.6" fill="none" stroke="#2fdfe6" stroke-width="1.6" stroke-linecap="round"/>
<circle cx="398" cy="62.4" r="0.9" fill="#2fdfe6"/>
<clipPath id="c2"><rect x="397.1" y="104.2" width="145.4" height="97"/></clipPath>
<g clip-path="url(#c2)">
<path d="M397,177.8 L398.5,177.76 L400,177.7 L401.5,177.64 L403,177.57 L404.5,177.5 L406,177.43 L407.5,177.36 L409,177.3 L410.5,177.24 L412,177.2 L413.5,177.28 L415,177.37 L416.5,177.48 L418,177.59 L419.5,177.71 L421,177.84 L422.5,177.96 L424,178.09 L425.5,178.22 L427,178.35 L428.5,178.47 L430,178.58 L431.5,178.68 L433,178.76 L434.5,178.82 L436,178.85 L437.5,178.9 L439,178.93 L440.5,178.95 L442,178.93 L443.5,178.87 L445,178.74 L446.5,178.53 L448,178.22 L449.5,177.78 L451,177.19 L452.5,176.41 L454,175.43 L455.5,174.21 L457,172.73 L458.5,170.98 L460,168.94 L461.5,166.61 L463,163.98 L464.5,161.09 L466,157.96 L467.5,154.63 L469,151.17 L470.5,147.7 L472,144.28 L473.5,141.01 L475,137.97 L476.5,135.27 L478,132.98 L479.5,131.18 L481,129.95 L482.5,129.33 L484,129.35 L485.5,130.06 L487,131.46 L488.5,133.51 L490,136.15 L491.5,139.27 L493,142.79 L494.5,146.58 L496,150.54 L497.5,154.56 L499,158.53 L500.5,162.36 L502,165.99 L503.5,169.28 L505,172.31 L506.5,175.03 L508,177.45 L509.5,179.56 L511,181.37 L512.5,182.91 L514,184.19 L515.5,185.24 L517,186.1 L518.5,186.78 L520,187.31 L521.5,187.66 L523,187.93 L524.5,188.12 L526,188.27 L527.5,188.37 L529,188.44 L530.5,188.49 L532,188.53 L533.5,188.55 L535,188.57 L536.5,188.58 L538,188.59 L539.5,188.59 L541,188.6 L542,188.6" fill="none" stroke="#e2161c" stroke-width="1.8"/>
<path d="M397,177.37 L398.5,177.14 L400,176.84 L401.5,176.45 L403,175.96 L404.5,175.33 L406,174.56 L407.5,173.61 L409,172.47 L410.5,171.11 L412,169.53 L413.5,167.81 L415,165.85 L416.5,163.66 L418,161.25 L419.5,158.66 L421,155.94 L422.5,153.15 L424,150.37 L425.5,147.68 L427,145.17 L428.5,142.95 L430,141.08 L431.5,139.66 L433,138.73 L434.5,138.35 L436,138.5 L437.5,139.17 L439,140.29 L440.5,141.84 L442,143.77 L443.5,146.02 L445,148.53 L446.5,151.21 L448,154.01 L449.5,156.85 L451,159.68 L452.5,162.42 L454,165.04 L455.5,167.5 L457,169.77 L458.5,171.83 L460,173.68 L461.5,175.31 L463,176.73 L464.5,177.95 L466,178.98 L467.5,179.85 L469,180.56 L470.5,181.2 L472,181.75 L473.5,182.23 L475,182.67 L476.5,183.06 L478,183.42 L479.5,183.75 L481,184.07 L482.5,184.37 L484,184.66 L485.5,184.94 L487,185.22 L488.5,185.49 L490,185.74 L491.5,185.99 L493,186.24 L494.5,186.47 L496,186.68 L497.5,186.89 L499,187.08 L500.5,187.25 L502,187.4 L503.5,187.47 L505,187.56 L506.5,187.66 L508,187.77 L509.5,187.88 L511,188 L512.5,188.12 L514,188.23 L515.5,188.34 L517,188.44 L518.5,188.53 L520,188.6 L521.5,188.6 L523,188.6 L524.5,188.6 L526,188.6 L527.5,188.6 L529,188.6 L530.5,188.6 L532,188.6 L533.5,188.6 L535,188.6 L536.5,188.6 L538,188.6 L539.5,188.6 L541,188.6 L542,188.6" fill="none" stroke="#2fd42c" stroke-width="1.8"/>
<path d="M397,177.8 L398.5,177.76 L400,177.7 L401.5,177.64 L403,177.57 L404.5,177.5 L406,177.43 L407.5,177.36 L409,177.3 L410.5,177.24 L412,177.2 L413.5,177.28 L415,177.37 L416.5,177.48 L418,177.59 L419.5,177.71 L421,177.84 L422.5,177.97 L424,178.1 L425.5,178.23 L427,178.36 L428.5,178.49 L430,178.61 L431.5,178.72 L433,178.83 L434.5,178.92 L436,179 L437.5,179.11 L439,179.24 L440.5,179.38 L442,179.54 L443.5,179.7 L445,179.87 L446.5,180.05 L448,180.23 L449.5,180.42 L451,180.61 L452.5,180.8 L454,180.99 L455.5,181.18 L457,181.37 L458.5,181.55 L460,181.73 L461.5,181.9 L463,182.06 L464.5,182.22 L466,182.36 L467.5,182.49 L469,182.6 L470.5,182.75 L472,182.92 L473.5,183.11 L475,183.31 L476.5,183.53 L478,183.76 L479.5,183.99 L481,184.24 L482.5,184.49 L484,184.74 L485.5,185 L487,185.26 L488.5,185.51 L490,185.76 L491.5,186.01 L493,186.24 L494.5,186.47 L496,186.69 L497.5,186.89 L499,187.08 L500.5,187.25 L502,187.4 L503.5,187.47 L505,187.56 L506.5,187.66 L508,187.77 L509.5,187.88 L511,188 L512.5,188.12 L514,188.23 L515.5,188.34 L517,188.44 L518.5,188.53 L520,188.6 L521.5,188.6 L523,188.6 L524.5,188.6 L526,188.6 L527.5,188.6 L529,188.6 L530.5,188.6 L532,188.6 L533.5,188.6 L535,188.6 L536.5,188.6 L538,188.6 L539.5,188.6 L541,188.6 L542,188.6" fill="none" stroke="#2019a8" stroke-width="2.1"/>
<path d="M397.53,178.36h0M398.57,176.28h0M399.25,177.47h0M400.3,176.87h0M401.11,177.15h0M402.39,175.18h0M403.36,175.38h0M403.95,174.63h0M405.4,174.88h0M406.2,173.38h0M407.25,175.13h0M407.97,173.87h0M408.83,172.47h0M409.87,173.16h0M411.16,171.48h0M411.91,169.47h0M412.94,167.86h0M413.99,165.8h0M414.97,166.35h0M415.7,165.09h0M416.96,162.55h0M417.49,163.19h0M418.49,160.27h0M419.83,159.4h0M420.79,156.05h0M421.63,155.82h0M422.6,154.37h0M423.4,152.75h0M424.84,149h0M425.49,147.62h0M426.68,146.65h0M427.31,144.48h0M428.24,143.87h0M429.43,141.51h0M430.14,138.71h0M431.1,139.62h0M432.48,137.06h0M433.37,138.41h0M434.06,139.15h0M434.9,137.61h0M435.85,137.34h0M437,138.75h0M437.87,138.73h0M439.25,140.85h0M439.72,140.63h0M440.76,139.96h0M442.21,142.99h0M442.79,142.32h0M443.81,143.05h0M444.9,149.31h0M445.73,147.87h0M446.51,150.03h0M447.51,151.63h0M448.98,152.83h0M449.53,154.16h0M450.46,156.62h0M451.54,158.73h0M452.77,157.81h0M453.63,160.98h0M454.55,158.8h0M455.62,161.98h0M456.42,161.4h0M457.57,160.78h0M458.11,160.69h0M459.61,161.74h0M460.22,161.52h0M461.16,160.08h0M462.11,157.06h0M463.31,157.94h0M464.12,158.41h0M464.95,156.51h0M466.36,154.51h0M467.08,153.11h0M468.35,152.33h0M468.99,149.53h0M469.74,148.13h0M470.86,145.99h0M471.77,143.93h0M472.93,142.4h0M473.8,138.59h0M474.76,136.89h0M475.69,136h0M476.49,134.41h0M477.49,135.64h0M478.69,130.57h0M479.48,129.66h0M480.48,130.13h0M481.55,130.41h0M482.82,130.23h0M483.23,127.67h0M484.2,128.85h0M485.43,128.1h0M486.47,131.74h0M487.64,132.23h0M488.55,135.04h0M489.17,132.69h0M490.05,136.84h0M491.36,139.85h0M492.48,141.3h0M493.34,142.35h0M494.12,145.37h0M495.29,148.56h0M495.92,151.47h0M496.93,152.41h0M497.79,155.33h0M499.1,160.08h0M499.72,161.38h0M500.97,163.98h0M501.82,165.76h0M502.56,168.44h0M503.7,167.49h0M504.87,172.61h0M505.98,173.47h0M506.56,175.25h0M507.96,177.17h0M508.36,177.25h0M509.62,179.28h0M510.44,179.89h0M511.65,182.64h0M512.24,182.36h0M513.39,182.49h0M514.27,185.04h0M515.59,185.23h0M516.21,184.6h0M517.63,185.77h0M518.16,188.18h0M519.12,187.06h0M520.52,186.69h0M521.21,187.85h0M522.13,188.37h0M523.25,188.44h0M524.05,187.91h0M524.91,188.66h0M525.78,188.17h0M526.75,186.81h0M528.21,189.6h0M529.09,190.53h0M529.81,188.44h0M530.69,189.87h0M531.57,187.94h0M532.92,187.92h0M533.68,189.16h0M534.55,189.29h0M535.63,188.59h0M536.96,190.24h0M537.47,190.22h0M538.53,189.32h0M539.54,187.09h0M540.28,187.74h0M541.77,188.74h0" fill="none" stroke="#111" stroke-width="1.7" stroke-linecap="round"/>
<path d="M397,177.37 L398.5,177.14 L400,176.84 L401.5,176.45 L403,175.96 L404.5,175.33 L406,174.56 L407.5,173.61 L409,172.47 L410.5,171.11 L412,169.53 L413.5,167.81 L415,165.85 L416.5,163.66 L418,161.25 L419.5,158.66 L421,155.94 L422.5,153.14 L424,150.36 L425.5,147.67 L427,145.16 L428.5,142.93 L430,141.05 L431.5,139.61 L433,138.67 L434.5,138.25 L436,138.36 L437.5,138.95 L439,139.98 L440.5,141.41 L442,143.17 L443.5,145.19 L445,147.4 L446.5,149.7 L448,152 L449.5,154.22 L451,156.25 L452.5,158.03 L454,159.48 L455.5,160.53 L457,161.13 L458.5,161.26 L460,160.89 L461.5,160.01 L463,158.64 L464.5,156.82 L466,154.58 L467.5,151.99 L469,149.13 L470.5,146.14 L472,143.11 L473.5,140.13 L475,137.33 L476.5,134.8 L478,132.64 L479.5,130.94 L481,129.78 L482.5,129.21 L484,129.27 L485.5,130 L487,131.42 L488.5,133.49 L490,136.13 L491.5,139.26 L493,142.78 L494.5,146.58 L496,150.54 L497.5,154.56 L499,158.53 L500.5,162.36 L502,165.99 L503.5,169.28 L505,172.31 L506.5,175.03 L508,177.45 L509.5,179.56 L511,181.37 L512.5,182.91 L514,184.19 L515.5,185.24 L517,186.1 L518.5,186.78 L520,187.31 L521.5,187.66 L523,187.93 L524.5,188.12 L526,188.27 L527.5,188.37 L529,188.44 L530.5,188.49 L532,188.53 L533.5,188.55 L535,188.57 L536.5,188.58 L538,188.59 L539.5,188.59 L541,188.6 L542,188.6" fill="none" stroke="#1fd6df" stroke-width="2.4" stroke-linejoin="round"/>
<path d="M397.53,178.36h0M398.57,176.28h0M400.3,176.87h0M401.11,177.15h0M403.95,174.63h0M405.4,174.88h0M406.2,173.38h0M407.97,173.87h0M411.16,171.48h0M411.91,169.47h0M414.97,166.35h0M416.96,162.55h0M417.49,163.19h0M418.49,160.27h0M423.4,152.75h0M424.84,149h0M428.24,143.87h0M429.43,141.51h0M430.14,138.71h0M433.37,138.41h0M439.25,140.85h0M439.72,140.63h0M440.76,139.96h0M442.79,142.32h0M443.81,143.05h0M445.73,147.87h0M446.51,150.03h0M447.51,151.63h0M449.53,154.16h0M453.63,160.98h0M454.55,158.8h0M455.62,161.98h0M458.11,160.69h0M459.61,161.74h0M460.22,161.52h0M466.36,154.51h0M468.35,152.33h0M469.74,148.13h0M471.77,143.93h0M472.93,142.4h0M473.8,138.59h0M474.76,136.89h0M477.49,135.64h0M478.69,130.57h0M481.55,130.41h0M485.43,128.1h0M490.05,136.84h0M491.36,139.85h0M492.48,141.3h0M493.34,142.35h0M496.93,152.41h0M499.1,160.08h0M499.72,161.38h0M502.56,168.44h0M505.98,173.47h0M506.56,175.25h0M507.96,177.17h0M508.36,177.25h0M509.62,179.28h0M512.24,182.36h0M513.39,182.49h0M514.27,185.04h0M516.21,184.6h0M517.63,185.77h0M518.16,188.18h0M521.21,187.85h0M522.13,188.37h0M523.25,188.44h0M525.78,188.17h0M526.75,186.81h0M529.09,190.53h0M529.81,188.44h0M530.69,189.87h0M532.92,187.92h0M534.55,189.29h0M535.63,188.59h0M538.53,189.32h0M539.54,187.09h0M541.77,188.74h0" fill="none" stroke="#111" stroke-width="1.25" stroke-linecap="round" opacity="0.9"/>
</g>
<clipPath id="c3"><rect x="397.1" y="201.2" width="145.4" height="97.5"/></clipPath>
<g clip-path="url(#c3)">
<path d="M397,277.6 L398.5,277.59 L400,277.57 L401.5,277.56 L403,277.54 L404.5,277.52 L406,277.5 L407.5,277.48 L409,277.46 L410.5,277.44 L412,277.41 L413.5,277.39 L415,277.37 L416.5,277.36 L418,277.34 L419.5,277.32 L421,277.31 L422.5,277.33 L424,277.45 L425.5,277.58 L427,277.73 L428.5,277.89 L430,278.06 L431.5,278.21 L433,278.36 L434.5,278.49 L436,278.59 L437.5,278.72 L439,278.89 L440.5,279.07 L442,279.27 L443.5,279.45 L445,279.61 L446.5,279.74 L448,279.81 L449.5,279.8 L451,279.7 L452.5,279.52 L454,279.26 L455.5,278.9 L457,278.4 L458.5,277.74 L460,276.88 L461.5,275.79 L463,274.44 L464.5,272.8 L466,270.86 L467.5,268.59 L469,266 L470.5,263.1 L472,259.92 L473.5,256.49 L475,252.89 L476.5,249.19 L478,245.54 L479.5,242.09 L481,238.9 L482.5,236.07 L484,233.69 L485.5,231.85 L487,230.59 L488.5,229.98 L490,230.02 L491.5,230.78 L493,232.26 L494.5,234.39 L496,237.07 L497.5,240.19 L499,243.61 L500.5,247.23 L502,251.07 L503.5,255.01 L505,258.95 L506.5,262.77 L508,266.41 L509.5,269.79 L511,272.82 L512.5,275.54 L514,277.97 L515.5,280.11 L517,281.96 L518.5,283.53 L520,284.83 L521.5,285.85 L523,286.67 L524.5,287.33 L526,287.85 L527.5,288.26 L529,288.56 L530.5,288.8 L532,288.97 L533.5,289.1 L535,289.19 L536.5,289.25 L538,289.3 L539.5,289.33 L541,289.36 L542,289.37" fill="none" stroke="#e2161c" stroke-width="1.8"/>
<path d="M397,277.53 L398.5,277.49 L400,277.42 L401.5,277.34 L403,277.22 L404.5,277.06 L406,276.84 L407.5,276.56 L409,276.2 L410.5,275.72 L412,275.12 L413.5,274.36 L415,273.42 L416.5,272.28 L418,270.92 L419.5,269.31 L421,267.45 L422.5,265.37 L424,263.14 L425.5,260.71 L427,258.12 L428.5,255.41 L430,252.65 L431.5,249.91 L433,247.27 L434.5,244.81 L436,242.63 L437.5,240.87 L439,239.61 L440.5,238.9 L442,238.75 L443.5,239.17 L445,240.1 L446.5,241.51 L448,243.33 L449.5,245.51 L451,247.96 L452.5,250.65 L454,253.5 L455.5,256.44 L457,259.38 L458.5,262.26 L460,265.02 L461.5,267.62 L463,270.01 L464.5,272.18 L466,274.11 L467.5,275.81 L469,277.28 L470.5,278.54 L472,279.6 L473.5,280.48 L475,281.2 L476.5,281.78 L478,282.31 L479.5,282.83 L481,283.33 L482.5,283.8 L484,284.24 L485.5,284.64 L487,285 L488.5,285.3 L490,285.54 L491.5,285.8 L493,286.13 L494.5,286.48 L496,286.84 L497.5,287.15 L499,287.4 L500.5,287.56 L502,287.76 L503.5,287.99 L505,288.23 L506.5,288.46 L508,288.68 L509.5,288.85 L511,288.94 L512.5,289.01 L514,289.09 L515.5,289.18 L517,289.26 L518.5,289.34 L520,289.4 L521.5,289.4 L523,289.4 L524.5,289.4 L526,289.4 L527.5,289.4 L529,289.4 L530.5,289.4 L532,289.4 L533.5,289.4 L535,289.4 L536.5,289.4 L538,289.4 L539.5,289.4 L541,289.4 L542,289.4" fill="none" stroke="#2fd42c" stroke-width="1.8"/>
<path d="M397,277.6 L398.5,277.59 L400,277.57 L401.5,277.56 L403,277.54 L404.5,277.52 L406,277.5 L407.5,277.48 L409,277.46 L410.5,277.44 L412,277.41 L413.5,277.39 L415,277.37 L416.5,277.36 L418,277.34 L419.5,277.32 L421,277.31 L422.5,277.33 L424,277.45 L425.5,277.58 L427,277.73 L428.5,277.9 L430,278.06 L431.5,278.22 L433,278.37 L434.5,278.49 L436,278.6 L437.5,278.75 L439,278.93 L440.5,279.13 L442,279.35 L443.5,279.58 L445,279.8 L446.5,280.01 L448,280.2 L449.5,280.36 L451,280.47 L452.5,280.59 L454,280.73 L455.5,280.88 L457,281.04 L458.5,281.2 L460,281.38 L461.5,281.56 L463,281.74 L464.5,281.92 L466,282.1 L467.5,282.28 L469,282.45 L470.5,282.62 L472,282.77 L473.5,282.92 L475,283.05 L476.5,283.17 L478,283.33 L479.5,283.58 L481,283.87 L482.5,284.18 L484,284.51 L485.5,284.83 L487,285.13 L488.5,285.39 L490,285.6 L491.5,285.84 L493,286.15 L494.5,286.5 L496,286.85 L497.5,287.16 L499,287.4 L500.5,287.56 L502,287.76 L503.5,287.99 L505,288.23 L506.5,288.46 L508,288.68 L509.5,288.85 L511,288.94 L512.5,289.01 L514,289.09 L515.5,289.18 L517,289.26 L518.5,289.34 L520,289.4 L521.5,289.4 L523,289.4 L524.5,289.4 L526,289.4 L527.5,289.4 L529,289.4 L530.5,289.4 L532,289.4 L533.5,289.4 L535,289.4 L536.5,289.4 L538,289.4 L539.5,289.4 L541,289.4 L542,289.4" fill="none" stroke="#2019a8" stroke-width="2.1"/>
<path d="M397.19,278.64h0M398.64,276.69h0M399.36,278.52h0M400.18,276.44h0M401.06,275.6h0M402.56,276.66h0M403.04,276.31h0M404.25,276.22h0M405,276.66h0M406.44,278.31h0M406.92,274.34h0M408.4,276.49h0M408.9,278.4h0M410.34,278h0M411.01,278.34h0M411.92,276.13h0M413.19,272.77h0M413.71,272.58h0M415.05,273.62h0M416.06,273.95h0M417.01,272.22h0M417.72,272.02h0M418.76,269.64h0M419.56,269.68h0M420.82,267.99h0M421.69,266.29h0M422.77,267.4h0M423.35,264.72h0M424.61,260.44h0M425.4,260.32h0M426.44,257.93h0M427.55,256.47h0M428.38,255.36h0M429.45,253.76h0M430.34,252.22h0M431.48,252.13h0M432.26,249.18h0M433.01,248.57h0M433.99,245.09h0M435.15,244.06h0M436.16,244.2h0M436.87,242.01h0M438.22,240.44h0M438.78,238.2h0M440.02,236.72h0M440.77,240.99h0M442.16,240.8h0M443.11,238.85h0M443.7,240.64h0M445.12,239.84h0M446.07,241.98h0M447.04,243.79h0M447.49,241.03h0M448.51,245.36h0M449.92,245.2h0M450.44,248.69h0M451.62,248.94h0M452.44,249.05h0M453.55,251.15h0M454.33,252.89h0M455.28,255.92h0M456.69,255.52h0M457.22,257.2h0M458.4,258.04h0M459.43,258.23h0M460.35,262.91h0M461.33,262.17h0M462.55,262.09h0M463.29,260.99h0M464.04,264.44h0M465.44,261.92h0M466.28,262.2h0M467.05,263.36h0M467.78,263.85h0M469.21,260.57h0M470.27,261.18h0M471,257.73h0M471.62,256.4h0M472.6,256.77h0M473.81,254.9h0M474.82,251.95h0M475.62,249.3h0M476.84,247.13h0M477.63,245.33h0M478.45,242.98h0M479.7,241.65h0M480.67,239.51h0M481.57,239.05h0M482.33,236.87h0M483.31,234.04h0M484.24,231.4h0M485.62,229.53h0M486.36,230.89h0M487.47,230.42h0M488.39,228.81h0M489.28,231.37h0M490.55,230.06h0M491.49,229.76h0M491.94,229.81h0M493.03,232.01h0M493.89,233.47h0M495.15,235.27h0M496.35,238.3h0M497.11,240.02h0M498.02,239.85h0M498.79,241.26h0M499.84,245.47h0M501.15,249.26h0M502.05,251.18h0M503.06,253.7h0M503.96,254.14h0M504.75,258.77h0M505.59,261.2h0M506.44,263.2h0M507.58,265.42h0M508.86,266.38h0M509.74,270.15h0M510.54,273.58h0M511.72,273.15h0M512.6,275.56h0M513.76,278.16h0M514.16,280.83h0M515.27,279.99h0M516.65,283.69h0M517.5,281.27h0M518.21,285.62h0M519.13,285.64h0M520.37,284.09h0M521.32,287.19h0M522.39,286.17h0M523.27,287.68h0M524.25,286.15h0M525.13,287.25h0M526.12,288.73h0M526.76,288.69h0M527.7,287.91h0M528.71,289.59h0M529.7,288.16h0M530.6,290.74h0M531.93,289.48h0M532.93,289.01h0M533.84,288.64h0M534.67,290.16h0M535.95,287.04h0M536.42,291.2h0M537.92,287.17h0M538.38,289.48h0M539.3,289.94h0M540.76,290.05h0M541.71,287.66h0" fill="none" stroke="#111" stroke-width="1.7" stroke-linecap="round"/>
<path d="M397,277.53 L398.5,277.49 L400,277.42 L401.5,277.34 L403,277.22 L404.5,277.06 L406,276.84 L407.5,276.56 L409,276.2 L410.5,275.72 L412,275.12 L413.5,274.36 L415,273.42 L416.5,272.28 L418,270.92 L419.5,269.31 L421,267.45 L422.5,265.37 L424,263.14 L425.5,260.71 L427,258.12 L428.5,255.41 L430,252.65 L431.5,249.9 L433,247.26 L434.5,244.8 L436,242.61 L437.5,240.85 L439,239.58 L440.5,238.84 L442,238.67 L443.5,239.05 L445,239.92 L446.5,241.24 L448,242.95 L449.5,244.96 L451,247.19 L452.5,249.58 L454,252.04 L455.5,254.46 L457,256.75 L458.5,258.8 L460,260.52 L461.5,261.85 L463,262.71 L464.5,263.06 L466,262.87 L467.5,262.12 L469,260.83 L470.5,259.02 L472,256.74 L473.5,254.05 L475,251.04 L476.5,247.8 L478,244.52 L479.5,241.34 L481,238.36 L482.5,235.69 L484,233.42 L485.5,231.66 L487,230.47 L488.5,229.9 L490,229.97 L491.5,230.74 L493,232.24 L494.5,234.38 L496,237.06 L497.5,240.18 L499,243.61 L500.5,247.23 L502,251.07 L503.5,255.01 L505,258.94 L506.5,262.77 L508,266.41 L509.5,269.79 L511,272.82 L512.5,275.54 L514,277.97 L515.5,280.11 L517,281.96 L518.5,283.53 L520,284.83 L521.5,285.85 L523,286.67 L524.5,287.33 L526,287.85 L527.5,288.26 L529,288.56 L530.5,288.8 L532,288.97 L533.5,289.1 L535,289.19 L536.5,289.25 L538,289.3 L539.5,289.33 L541,289.36 L542,289.37" fill="none" stroke="#1fd6df" stroke-width="2.4" stroke-linejoin="round"/>
<path d="M398.64,276.69h0M399.36,278.52h0M400.18,276.44h0M402.56,276.66h0M403.04,276.31h0M404.25,276.22h0M405,276.66h0M406.44,278.31h0M406.92,274.34h0M408.9,278.4h0M410.34,278h0M415.05,273.62h0M416.06,273.95h0M417.01,272.22h0M418.76,269.64h0M421.69,266.29h0M423.35,264.72h0M425.4,260.32h0M426.44,257.93h0M427.55,256.47h0M430.34,252.22h0M433.99,245.09h0M436.16,244.2h0M438.22,240.44h0M440.02,236.72h0M440.77,240.99h0M443.7,240.64h0M446.07,241.98h0M450.44,248.69h0M451.62,248.94h0M452.44,249.05h0M454.33,252.89h0M456.69,255.52h0M457.22,257.2h0M458.4,258.04h0M461.33,262.17h0M463.29,260.99h0M469.21,260.57h0M470.27,261.18h0M471,257.73h0M474.82,251.95h0M475.62,249.3h0M478.45,242.98h0M481.57,239.05h0M482.33,236.87h0M483.31,234.04h0M486.36,230.89h0M487.47,230.42h0M488.39,228.81h0M489.28,231.37h0M491.49,229.76h0M491.94,229.81h0M493.03,232.01h0M496.35,238.3h0M498.02,239.85h0M498.79,241.26h0M503.06,253.7h0M503.96,254.14h0M505.59,261.2h0M506.44,263.2h0M507.58,265.42h0M508.86,266.38h0M509.74,270.15h0M515.27,279.99h0M517.5,281.27h0M520.37,284.09h0M523.27,287.68h0M524.25,286.15h0M532.93,289.01h0M534.67,290.16h0M535.95,287.04h0M539.3,289.94h0M540.76,290.05h0" fill="none" stroke="#111" stroke-width="1.25" stroke-linecap="round" opacity="0.9"/>
</g>
<rect x="397.1" y="7" width="145.4" height="291.7" fill="none" stroke="#777" stroke-width="1"/>
<line x1="397.1" y1="104.2" x2="542.5" y2="104.2" stroke="#777" stroke-width="1"/>
<line x1="397.1" y1="201.2" x2="542.5" y2="201.2" stroke="#777" stroke-width="1"/>
<line x1="542" y1="298.7" x2="542" y2="301.3" stroke="#555" stroke-width="0.7"/>
<text transform="translate(542 310.3) scale(0.87 1)" font-size="8.6" text-anchor="middle" fill="#222">68</text>
<line x1="527.5" y1="298.7" x2="527.5" y2="300.1" stroke="#555" stroke-width="0.7"/>
<line x1="513" y1="298.7" x2="513" y2="301.3" stroke="#555" stroke-width="0.7"/>
<text transform="translate(513 310.3) scale(0.87 1)" font-size="8.6" text-anchor="middle" fill="#222">70</text>
<line x1="498.5" y1="298.7" x2="498.5" y2="300.1" stroke="#555" stroke-width="0.7"/>
<line x1="484" y1="298.7" x2="484" y2="301.3" stroke="#555" stroke-width="0.7"/>
<text transform="translate(484 310.3) scale(0.87 1)" font-size="8.6" text-anchor="middle" fill="#222">72</text>
<line x1="469.5" y1="298.7" x2="469.5" y2="300.1" stroke="#555" stroke-width="0.7"/>
<line x1="455" y1="298.7" x2="455" y2="301.3" stroke="#555" stroke-width="0.7"/>
<text transform="translate(455 310.3) scale(0.87 1)" font-size="8.6" text-anchor="middle" fill="#222">74</text>
<line x1="440.5" y1="298.7" x2="440.5" y2="300.1" stroke="#555" stroke-width="0.7"/>
<line x1="426" y1="298.7" x2="426" y2="301.3" stroke="#555" stroke-width="0.7"/>
<text transform="translate(426 310.3) scale(0.87 1)" font-size="8.6" text-anchor="middle" fill="#222">76</text>
<line x1="411.5" y1="298.7" x2="411.5" y2="300.1" stroke="#555" stroke-width="0.7"/>
<line x1="397" y1="298.7" x2="397" y2="301.3" stroke="#555" stroke-width="0.7"/>
<text transform="translate(397 310.3) scale(0.87 1)" font-size="8.6" text-anchor="middle" fill="#222">78</text>
<text transform="translate(468 321) scale(0.85 1)" font-size="10.1" text-anchor="middle" fill="#222">Binding energy (eV)</text>
<text transform="translate(389.8 146.6) scale(0.86 1) rotate(-90)" font-size="9" text-anchor="middle" fill="#222">Intensity (a.u.)</text>
<text transform="translate(399.8 15.6) scale(0.88 1)" font-size="8.4" text-anchor="start" fill="#222">Pt/SnO<tspan font-size="5" dy="1.6">2</tspan></text>
<text transform="translate(540 16.8) scale(0.89 1)" font-size="8.6" text-anchor="end" fill="#222">Pt 4f</text>
<text transform="translate(439.2 20.4) scale(0.9 1)" font-size="8.7" text-anchor="start" fill="#222">4f<tspan font-size="5" dy="1.6">5/2</tspan></text>
<text transform="translate(431.4 32.6) scale(0.89 1)" font-size="8.2" text-anchor="start" fill="#222">73.95</text>
<text transform="translate(512 28.4) scale(0.9 1)" font-size="8.7" text-anchor="start" fill="#222">4f<tspan font-size="5" dy="1.6">7/2</tspan></text>
<text transform="translate(514.6 40) scale(0.89 1)" font-size="8.2" text-anchor="start" fill="#222">70.67</text>
<text transform="translate(399.8 113.6) scale(0.88 1)" font-size="8.4" text-anchor="start" fill="#222">PtO/SnO<tspan font-size="5" dy="1.6">2</tspan></text>
<text transform="translate(429.6 131.2) scale(0.9 1)" font-size="8.7" text-anchor="start" fill="#222">4f<tspan font-size="5" dy="1.6">5/2</tspan></text>
<text transform="translate(406 137.6) scale(0.89 1)" font-size="8.2" text-anchor="start" fill="#222">75.38</text>
<text transform="translate(479.4 123.4) scale(0.9 1)" font-size="8.7" text-anchor="start" fill="#222">4f<tspan font-size="5" dy="1.6">7/2</tspan></text>
<text transform="translate(493.8 137.9) scale(0.89 1)" font-size="8.2" text-anchor="start" fill="#222">72.08</text>
<text transform="translate(399.3 210.4) scale(0.88 1)" font-size="8.4" text-anchor="start" fill="#222">PtO<tspan font-size="5.2" dy="1.6">x</tspan><tspan dy="-1.6">/SnO</tspan><tspan font-size="5" dy="1.6">2</tspan></text>
<text transform="translate(436.6 231.6) scale(0.9 1)" font-size="8.7" text-anchor="start" fill="#222">4f<tspan font-size="5" dy="1.6">5/2</tspan></text>
<text transform="translate(412.4 239.6) scale(0.89 1)" font-size="8.2" text-anchor="start" fill="#222">74.92</text>
<text transform="translate(487.6 224.6) scale(0.9 1)" font-size="8.7" text-anchor="start" fill="#222">4f<tspan font-size="5" dy="1.6">7/2</tspan></text>
<text transform="translate(503 239) scale(0.89 1)" font-size="8.2" text-anchor="start" fill="#222">71.62</text>
</g>
</g>
</svg></body></html>
